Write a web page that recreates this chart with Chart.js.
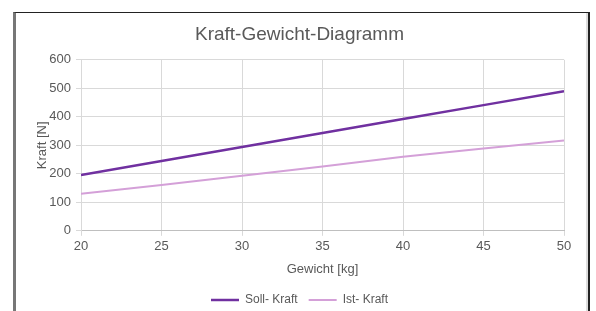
<!DOCTYPE html>
<html>
<head>
<meta charset="utf-8">
<script src="https://cdn.jsdelivr.net/npm/chart.js@4"></script>
<style>
  html, body { margin: 0; padding: 0; background: #fff; }
  #wrap { position: relative; width: 596px; height: 311px; overflow: hidden; }
  #frame {
    position: absolute; left: 13px; top: 12px; width: 572px; height: 320px;
    border-left: 3px solid #777; border-top: 1px solid #222; border-right: 2px solid #222;
    box-shadow: inset -2px 0 0 #ddd;
    pointer-events: none;
  }
  canvas { position: absolute; left: 0; top: 0; }
</style>
</head>
<body>
<div id="wrap">
  <canvas id="kraftChart" width="596" height="311"></canvas>
  <div id="frame"></div>
</div>
<script>
// Gewicht in kg (x-Achse)
const gewicht = [20, 25, 30, 35, 40, 45, 50];
// Soll-Kraft in N
const sollKraft = [196, 245, 294, 343, 392, 441, 490];
// Ist-Kraft in N
const istKraft = [130, 161, 193, 226, 260, 289, 317];

const grau = '#595959';
const schrift = 'Liberation Sans, Arial, sans-serif';

const ctx = document.getElementById('kraftChart').getContext('2d');

new Chart(ctx, {
  type: 'line',
  data: {
    datasets: [
      {
        label: 'Soll- Kraft',
        data: gewicht.map((g, i) => ({ x: g, y: sollKraft[i] })),
        borderColor: '#7030a0',
        backgroundColor: '#7030a0',
        borderWidth: 2.5,
        pointRadius: 0,
        tension: 0,
      },
      {
        label: 'Ist- Kraft',
        data: gewicht.map((g, i) => ({ x: g, y: istKraft[i] })),
        borderColor: '#d4a0d8',
        backgroundColor: '#d4a0d8',
        borderWidth: 2,
        pointRadius: 0,
        tension: 0,
      },
    ],
  },
  options: {
    responsive: false,
    animation: false,
    layout: { padding: { left: 35, right: 32, top: 21, bottom: -5 } },
    plugins: {
      title: {
        display: true,
        text: 'Kraft-Gewicht-Diagramm',
        color: grau,
        font: { family: schrift, size: 19, weight: 'normal' },
        padding: { top: 2, bottom: 14 },
      },
      legend: {
        position: 'bottom',
        labels: {
          color: grau,
          font: { family: schrift, size: 12 },
          usePointStyle: true,
          pointStyle: 'line',
          pointStyleWidth: 28,
          padding: 11,
        },
      },
      tooltip: { enabled: false },
    },
    scales: {
      x: {
        type: 'linear',
        min: 20,
        max: 50,
        ticks: { stepSize: 5, color: grau, font: { family: schrift, size: 13 }, padding: 3 },
        grid: { color: '#d9d9d9', tickLength: 5 },
        border: { color: '#bfbfbf' },
        title: {
          display: true,
          text: 'Gewicht [kg]',
          color: grau,
          font: { family: schrift, size: 13 },
          padding: { top: 4, bottom: 6 },
        },
      },
      y: {
        min: 0,
        max: 600,
        ticks: { stepSize: 100, color: grau, font: { family: schrift, size: 13 }, padding: 5 },
        grid: { color: '#d9d9d9', tickLength: 5 },
        border: { color: '#d9d9d9' },
        title: {
          display: true,
          text: 'Kraft [N]',
          color: grau,
          font: { family: schrift, size: 13 },
          padding: { top: 0, bottom: 4 },
        },
        afterFit: (axis) => { axis.width = 46; },
      },
    },
  },
});
</script>
</body>
</html>
